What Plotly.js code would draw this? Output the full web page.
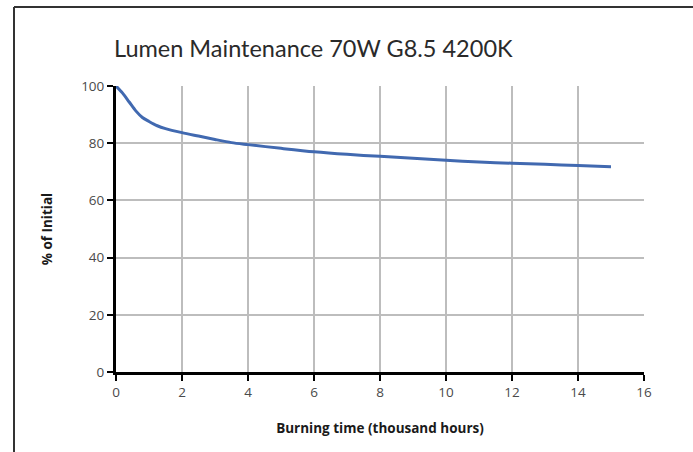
<!DOCTYPE html>
<html>
<head>
<meta charset="utf-8">
<script src="https://cdn.plot.ly/plotly-3.0.1.min.js"></script>
<style>html,body{margin:0;padding:0;background:#fff;}#chart{width:693px;height:452px;}</style>
</head>
<body>
<div id="chart"></div>
<script>
const hours = [0, 0.2, 0.4, 0.6, 0.8, 1.0, 1.25, 1.5, 2, 2.5, 3, 3.5, 4, 5, 6, 7, 8, 9, 10, 11, 12, 13, 14, 15];
const lumen = [100, 97.5, 94.4, 91.3, 89.0, 87.6, 86.1, 85.1, 83.7, 82.5, 81.3, 80.2, 79.5, 78.2, 77.0, 76.1, 75.4, 74.7, 74.0, 73.4, 73.0, 72.6, 72.2, 71.8];
const xTicks = [0, 2, 4, 6, 8, 10, 12, 14, 16];
const yTicks = [0, 20, 40, 60, 80, 100];

const trace = {
  x: hours, y: lumen, type: 'scatter', mode: 'lines',
  line: {color: '#4169b0', width: 3, shape: 'spline', smoothing: 0.8},
  hoverinfo: 'skip'
};

const layout = {
  width: 693, height: 452,
  margin: {l: 116, r: 49, t: 86, b: 80},
  paper_bgcolor: '#fff', plot_bgcolor: '#fff',
  showlegend: false,
  title: {text: 'Lumen Maintenance 70W G8.5 4200K', x: 114/693, xanchor: 'left', xref: 'container', y: 1 - 49/452, yanchor: 'middle', yref: 'container',
          font: {family: 'Lato, sans-serif', size: 23.5, color: '#2a2a2a'}},
  xaxis: {
    range: [0, 16], tickvals: xTicks, ticktext: xTicks.map(String),
    showgrid: true, gridcolor: '#bdbdbd', gridwidth: 2,
    showline: true, linecolor: '#000', linewidth: 3,
    ticks: 'outside', ticklen: 6, tickwidth: 2, tickcolor: '#000',
    tickfont: {family: 'Open Sans, sans-serif', size: 13.5, color: '#4a4a4a'},
    zeroline: false, fixedrange: true,
    title: {text: 'Burning time (thousand hours)', standoff: 24,
            font: {family: 'Open Sans, sans-serif', size: 13.5, color: '#1a1a1a', weight: 'bold'}}
  },
  yaxis: {
    range: [0, 100], tickvals: yTicks, ticktext: yTicks.map(String),
    showgrid: true, gridcolor: '#bdbdbd', gridwidth: 2,
    showline: true, linecolor: '#000', linewidth: 3,
    ticks: 'outside', ticklen: 6, tickwidth: 2, tickcolor: '#000',
    tickfont: {family: 'Open Sans, sans-serif', size: 13.5, color: '#4a4a4a'},
    zeroline: false, fixedrange: true,
    title: {text: '% of Initial', standoff: 26,
            font: {family: 'Open Sans, sans-serif', size: 13.5, color: '#1a1a1a', weight: 'bold'}}
  },
  shapes: [
    {type: 'line', xref: 'paper', yref: 'paper', x0: (14 - 116) / 528, x1: (14 - 116) / 528, y0: (372 - 7) / 286, y1: (372 - 460) / 286,
     line: {color: '#333', width: 2}},
    {type: 'line', xref: 'paper', yref: 'paper', x0: (14 - 116) / 528, x1: (700 - 116) / 528, y0: (372 - 7) / 286, y1: (372 - 7) / 286,
     line: {color: '#333', width: 2}}
  ]
};

Plotly.newPlot('chart', [trace], layout, {displayModeBar: false, staticPlot: true});
</script>
</body>
</html>
